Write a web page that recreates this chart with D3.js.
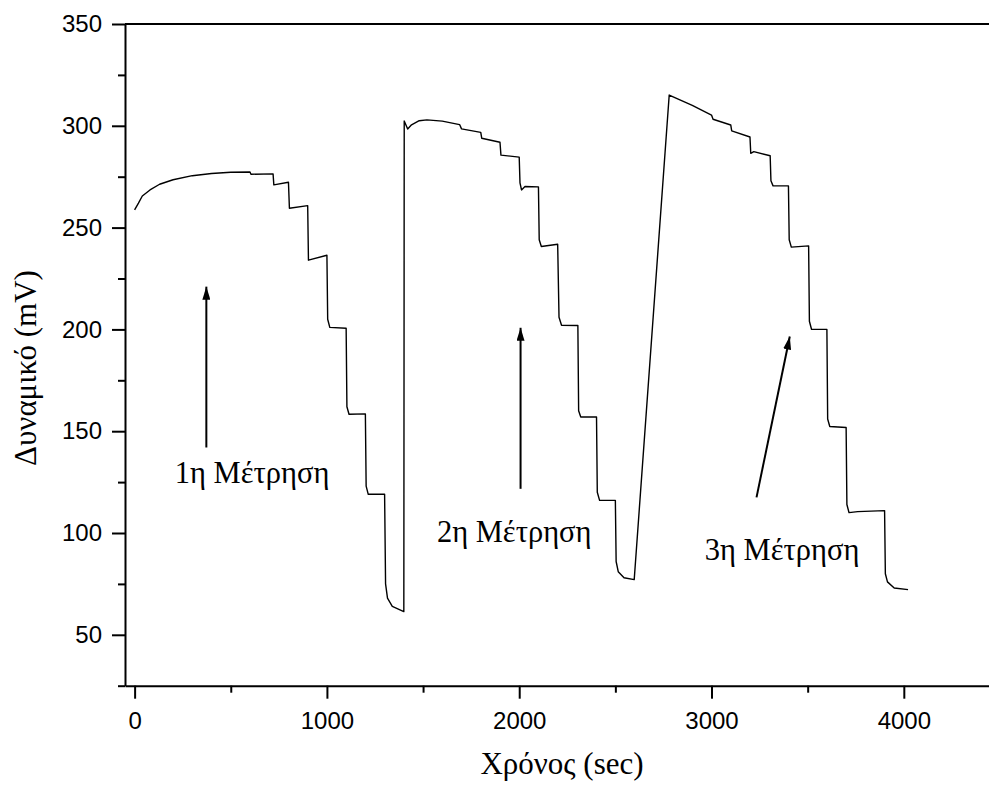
<!DOCTYPE html>
<html>
<head>
<meta charset="utf-8">
<script src="https://cdn.jsdelivr.net/npm/d3@7/dist/d3.min.js"></script>
<style>
  html, body { margin: 0; padding: 0; background: #fff; }
  svg { display: block; }
</style>
</head>
<body>
<div id="chart"></div>
<script>
// ---- data ----
const timeSec = [
  0, 20, 40, 80, 130, 200, 300, 400, 500, 600, 605, 720, 724, 800, 805, 900, 904, 1000, 1004, 1015, 1100, 1104, 1115, 1200, 1204, 1215, 1300, 1305, 1315, 1340, 1400,
  1402, 1420, 1440, 1480, 1520, 1600, 1690, 1700, 1800, 1805, 1900, 1905, 2000, 2004, 2012, 2030, 2100, 2104, 2115, 2200, 2207, 2220, 2305, 2309, 2320, 2402, 2406, 2418, 2500, 2504, 2515, 2545, 2598,
  2780, 2900, 3000, 3008, 3100, 3105, 3200, 3204, 3220, 3305, 3309, 3320, 3400, 3404, 3415, 3505, 3509, 3520, 3600, 3604, 3615, 3700, 3704, 3715, 3760, 3900, 3904, 3915, 3950, 4022
];
const potential_mV = [
  258.7, 262, 265.5, 268.5, 271.3, 273.5, 275.5, 276.6, 277.2, 277.3, 276.2, 276.4, 271, 272.3, 259.5, 260.8, 234, 236.4, 205, 201, 200.6, 162, 158.3, 158.5, 123, 119, 119, 75, 68, 64, 61.4,
  302.4, 298.4, 300.5, 302.5, 302.9, 302.3, 300.6, 298.5, 296.8, 293.9, 291.9, 285.6, 284.6, 272, 268.5, 270.2, 270, 244, 240.7, 241.8, 206, 202, 201.9, 160, 157, 157, 120, 116, 116, 86, 81, 78, 77.1,
  315.1, 310, 305.3, 303.2, 300.4, 297.5, 294.5, 286.5, 287.3, 285.3, 273, 270.5, 270.5, 244, 240.4, 241, 204, 200.1, 200, 156, 152.3, 151.8, 114, 110, 110.5, 111, 80, 76, 73, 72.2
];
const xMajorTicks = [0, 1000, 2000, 3000, 4000];
const xMinorTicks = [500, 1500, 2500, 3500];
const yMajorTicks = [50, 100, 150, 200, 250, 300, 350];
const yMinorTicks = [25, 75, 125, 175, 225, 275, 325];
const annotationLabels = ["1η Μέτρηση", "2η Μέτρηση", "3η Μέτρηση"];
const labelAnchorX = [209, 1572, 2965];
const labelAnchorY = [124.7, 95.7, 86.9];
const arrowFromX = [373, 2007, 3234];
const arrowFromY = [142, 121.7, 117.5];
const arrowToX = [373, 2007, 3407];
const arrowToY = [221, 200.8, 196.5];
const xTitle = "Χρόνος (sec)";
const yTitle = "Δυναμικό (mV)";

(function () {
// ---- layout ----
const W = 989, H = 787;
const mLeft = 125, mTop = 24, mBottom = 685.7;
const x = d3.scaleLinear().domain([-50, 4450]).range([mLeft, mLeft + 4500 * 0.1923]);
const y = d3.scaleLinear().domain([25, 350]).range([mBottom, mTop]);

const svg = d3.select("#chart").append("svg").attr("width", W).attr("height", H);

const tickFont = "'Liberation Sans', Arial, sans-serif";
const serif = "'Liberation Serif', 'Times New Roman', serif";

// top frame line
svg.append("line")
  .attr("x1", mLeft).attr("x2", x.range()[1]).attr("y1", mTop).attr("y2", mTop)
  .attr("stroke", "#000").attr("stroke-width", 2);

// x axis
const gx = svg.append("g").attr("transform", `translate(0,${mBottom})`);
gx.call(d3.axisBottom(x).tickValues(xMajorTicks).tickSize(13).tickPadding(13).tickSizeOuter(0).tickFormat(d3.format("d")));
const gx2 = svg.append("g").attr("transform", `translate(0,${mBottom})`);
gx2.call(d3.axisBottom(x).tickValues(xMinorTicks).tickSize(7).tickSizeOuter(0).tickFormat(""));
gx2.select(".domain").remove();

// y axis
const gy = svg.append("g").attr("transform", `translate(${mLeft},0)`);
gy.call(d3.axisLeft(y).tickValues(yMajorTicks).tickSize(13).tickPadding(10).tickSizeOuter(0));
const gy2 = svg.append("g").attr("transform", `translate(${mLeft},0)`);
gy2.call(d3.axisLeft(y).tickValues(yMinorTicks).tickSize(7).tickSizeOuter(0).tickFormat(""));
gy2.select(".domain").remove();

svg.selectAll(".domain, .tick line").attr("stroke", "#000").attr("stroke-width", 2);
svg.selectAll(".tick text").attr("font-family", tickFont).attr("font-size", 24).attr("fill", "#000");

// data line
const pts = timeSec.map((t, i) => [t, potential_mV[i]]);
svg.append("path")
  .datum(pts)
  .attr("fill", "none")
  .attr("stroke", "#000")
  .attr("stroke-width", 1.4)
  .attr("stroke-linejoin", "round")
  .attr("d", d3.line().x(d => x(d[0])).y(d => y(d[1])));

// arrow marker
svg.append("defs").append("marker")
  .attr("id", "ah")
  .attr("viewBox", "0 0 13 8")
  .attr("refX", 13).attr("refY", 4)
  .attr("markerUnits", "userSpaceOnUse")
  .attr("markerWidth", 13).attr("markerHeight", 8)
  .attr("orient", "auto")
  .append("path").attr("d", "M0,0 L13,4 L0,8 Z").attr("fill", "#000");

annotationLabels.forEach((lab, i) => {
  svg.append("line")
    .attr("x1", x(arrowFromX[i])).attr("y1", y(arrowFromY[i]))
    .attr("x2", x(arrowToX[i])).attr("y2", y(arrowToY[i]))
    .attr("stroke", "#000").attr("stroke-width", 2)
    .attr("marker-end", "url(#ah)");
  svg.append("text")
    .attr("x", x(labelAnchorX[i])).attr("y", y(labelAnchorY[i]))
    .attr("font-family", serif).attr("font-size", 30.5)
    .attr("fill", "#000")
    .text(lab);
});

// axis titles
svg.append("text")
  .attr("x", 562).attr("y", 774)
  .attr("text-anchor", "middle")
  .attr("font-family", serif).attr("font-size", 31)
  .text(xTitle);
svg.append("text")
  .attr("transform", "translate(36,368) rotate(-90)")
  .attr("text-anchor", "middle")
  .attr("font-family", serif).attr("font-size", 31)
  .text(yTitle);
})();
</script>
</body>
</html>
